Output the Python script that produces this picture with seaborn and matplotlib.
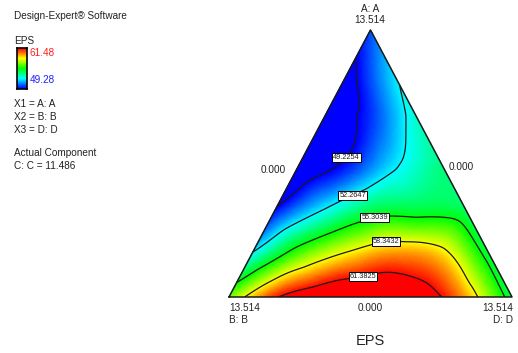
import numpy as np
import matplotlib
matplotlib.use("Agg")
import matplotlib.pyplot as plt
import matplotlib.tri as mtri
from matplotlib.colors import LinearSegmentedColormap
import seaborn as sns

# EPS on a 1/6 simplex lattice.
# Row k has A = k/6; each row runs from the B edge towards the D edge.
eps_rows = [
    [56.8, 61.2, 63.0, 63.5, 62.6, 59.6, 54.5],
    [52.3, 56.2, 58.4, 59.6, 58.8, 54.6],
    [49.3, 52.1, 54.2, 54.5, 54.2],
    [47.8, 49.5, 52.0, 53.8],
    [47.9, 49.9, 53.0],
    [48.6, 52.0],
    [50.3],
]
contour_levels = [49.2254, 52.2647, 55.3039, 58.3432, 61.3825]
eps_min, eps_max = 49.28, 61.48
corner_max = "13.514"
corner_min = "0.000"

sns.set_theme(style="white")
plt.rcParams['font.family'] = ['Liberation Sans', 'DejaVu Sans']

# build ternary points: x = D + A/2, y = A
n = len(eps_rows) - 1
xs, ys, zs = [], [], []
for i, row in enumerate(eps_rows):
    for j, val in enumerate(row):
        a = i / n
        d = j / n
        xs.append(d + a / 2)
        ys.append(a)
        zs.append(val)
xs, ys, zs = np.array(xs), np.array(ys), np.array(zs)

tri = mtri.Triangulation(xs, ys)
interp = mtri.CubicTriInterpolator(tri, zs, kind='geom')
refiner = mtri.UniformTriRefiner(tri)
tri_f, z_f = refiner.refine_field(zs, triinterpolator=interp, subdiv=5)

de_cmap = LinearSegmentedColormap.from_list(
    "de", ["#0000ff", "#00ffff", "#00ff00", "#ffff00", "#ff0000"])

W, H = 518, 353
fig = plt.figure(figsize=(W / 100, H / 100), dpi=100)


def fx(x):
    return x / W


def fy(y):
    return 1 - y / H


ax = fig.add_axes([fx(229), fy(297), 283 / W, 267 / H])
ax.tripcolor(tri_f, z_f, shading='gouraud', cmap=de_cmap, vmin=eps_min, vmax=eps_max)
cs = ax.tricontour(tri_f, z_f, levels=contour_levels, colors='k', linewidths=0.9)
ax.plot([0, 1, 0.5, 0], [0, 0, 1, 0], color='k', lw=1.1, clip_on=False)
ax.set_xlim(0, 1)
ax.set_ylim(0, 1)
ax.axis('off')

label_pos = [(0.392, 0.543), (0.428, 0.401), (0.516, 0.292), (0.551, 0.232), (0.47, 0.094)]
labels = ax.clabel(cs, fmt='%.4f', fontsize=5.3, inline=False, manual=label_pos)
for t in labels:
    t.set_bbox(dict(facecolor='white', edgecolor='black', pad=0.7, linewidth=0.7))
    t.set_rotation(0)

txt = '#222222'
fs = 7.2
# left legend block
fig.text(fx(14), fy(16), "Design-Expert® Software", fontsize=fs, color=txt, va='center')
fig.text(fx(14), fy(41), "EPS", fontsize=fs, color=txt, va='center')
cax = fig.add_axes([fx(17), fy(89), 10 / W, 41 / H])
cax.imshow(np.linspace(1, 0, 100).reshape(-1, 1), cmap=de_cmap, aspect='auto')
cax.set_xticks([])
cax.set_yticks([])
for s in cax.spines.values():
    s.set_visible(True)
    s.set_color('black')
    s.set_linewidth(1.2)
fig.text(fx(30), fy(53), f"{eps_max:.2f}", fontsize=fs, color='#ff2020', va='center')
fig.text(fx(30), fy(80), f"{eps_min:.2f}", fontsize=fs, color='#2020ff', va='center')
fig.text(fx(14), fy(104), "X1 = A: A", fontsize=fs, color=txt, va='center')
fig.text(fx(14), fy(117), "X2 = B: B", fontsize=fs, color=txt, va='center')
fig.text(fx(14), fy(130), "X3 = D: D", fontsize=fs, color=txt, va='center')
fig.text(fx(14), fy(153), "Actual Component", fontsize=fs, color=txt, va='center')
fig.text(fx(14), fy(166), "C: C = 11.486", fontsize=fs, color=txt, va='center')

# triangle axis labels
fig.text(fx(370), fy(9), "A: A", fontsize=fs, color=txt, ha='center', va='center')
fig.text(fx(370), fy(20), corner_max, fontsize=fs, color=txt, ha='center', va='center')
fig.text(fx(273), fy(170), corner_min, fontsize=fs, color=txt, ha='center', va='center')
fig.text(fx(461), fy(167), corner_min, fontsize=fs, color=txt, ha='center', va='center')
fig.text(fx(229), fy(308), corner_max, fontsize=fs, color=txt, ha='left', va='center')
fig.text(fx(229), fy(320), "B: B", fontsize=fs, color=txt, ha='left', va='center')
fig.text(fx(370), fy(308), corner_min, fontsize=fs, color=txt, ha='center', va='center')
fig.text(fx(513), fy(308), corner_max, fontsize=fs, color=txt, ha='right', va='center')
fig.text(fx(513), fy(320), "D: D", fontsize=fs, color=txt, ha='right', va='center')
fig.text(fx(370), fy(341), "EPS", fontsize=10.5, color=txt, ha='center', va='center')

fig.savefig("out.png", dpi=100)
